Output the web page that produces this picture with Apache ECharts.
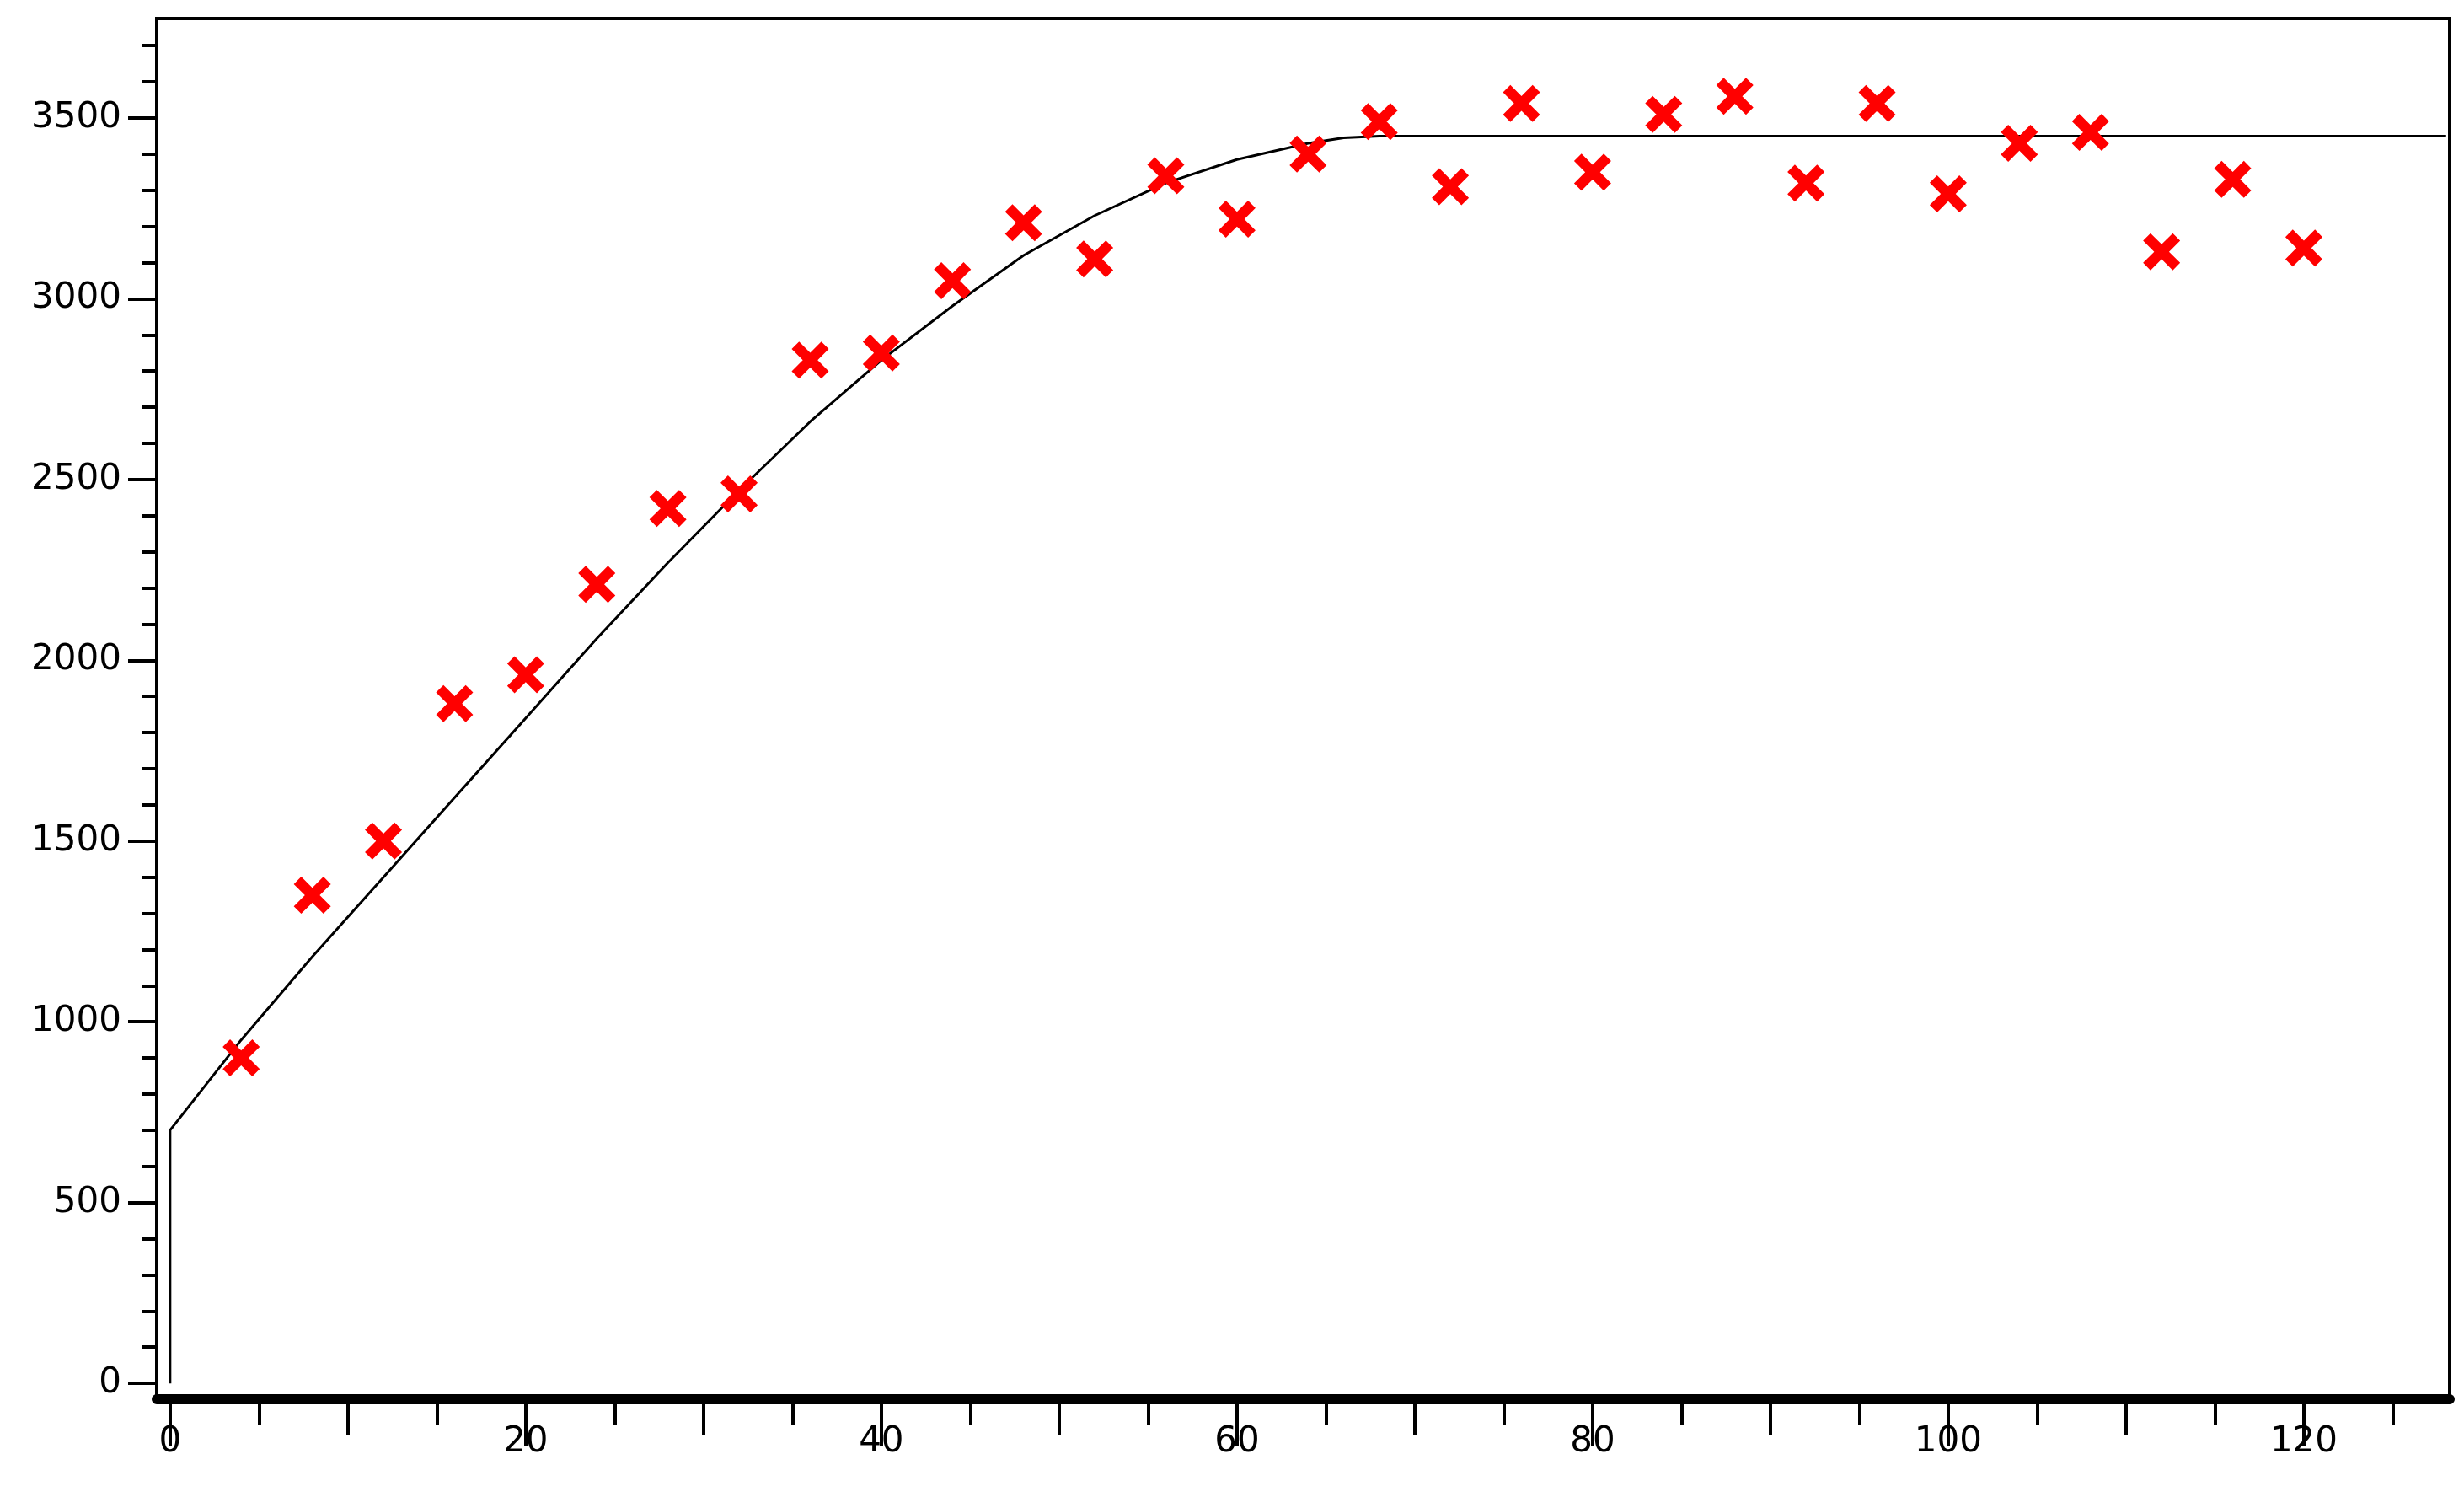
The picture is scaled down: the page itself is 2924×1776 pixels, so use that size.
<!DOCTYPE html>
<html>
<head>
<meta charset="utf-8">
<script src="https://cdn.jsdelivr.net/npm/echarts@6/dist/echarts.min.js"></script>
<style>html,body{margin:0;padding:0;background:#fff}#main{width:2924px;height:1776px}</style>
</head>
<body>
<div id="main"></div>
<script>
const scatterX = [4, 8, 12, 16, 20, 24, 28, 32, 36, 40, 44, 48, 52, 56, 60, 64, 68, 72, 76, 80, 84, 88, 92, 96, 100, 104, 108, 112, 116, 120];
const scatterY = [900, 1350, 1500, 1880, 1960, 2210, 2420, 2460, 2830, 2850, 3050, 3210, 3110, 3340, 3220, 3400, 3490, 3310, 3540, 3350, 3510, 3560, 3320, 3540, 3290, 3430, 3460, 3130, 3330, 3140];
const curveX = [0, 0, 4, 8, 12, 16, 20, 24, 28, 32, 36, 40, 44, 48, 52, 56, 60, 64, 66, 68, 128];
const curveY = [0, 700, 950, 1180, 1400, 1620, 1840, 2060, 2270, 2470, 2660, 2830, 2980, 3120, 3230, 3320, 3385, 3430, 3445, 3450, 3450];
const xLabels = [0, 20, 40, 60, 80, 100, 120];
const xTicks10 = [10, 30, 50, 70, 90, 110];
const xTicks5 = [5, 15, 25, 35, 45, 55, 65, 75, 85, 95, 105, 115, 125];
const yLabels = [0, 500, 1000, 1500, 2000, 2500, 3000, 3500];
const yMinor = [];
for (let v = 100; v <= 3700; v += 100) if (v % 500) yMinor.push(v);

const chart = echarts.init(document.getElementById('main'));
const xBase = { type: 'value', min: -0.75, max: 128.2, position: 'bottom', splitLine: { show: false } };
const yBase = { type: 'value', min: -44, max: 3775, position: 'left', splitLine: { show: false } };
const labelFont = { color: '#000', fontSize: 42, fontFamily: 'DejaVu Sans', formatter: v => String(v) };
const xAxes = [
  Object.assign({}, xBase, {
    axisLine: { show: true, onZero: false, lineStyle: { color: '#000', width: 12 } },
    axisTick: { show: true, customValues: xLabels, length: 55, lineStyle: { color: '#000', width: 4 } },
    axisLabel: Object.assign({ show: true, customValues: xLabels, margin: 30 }, labelFont)
  }),
  Object.assign({}, xBase, {
    axisLine: { show: false, onZero: false },
    axisTick: { show: true, customValues: xTicks10, length: 42, lineStyle: { color: '#000', width: 4 } },
    axisLabel: { show: false }
  }),
  Object.assign({}, xBase, {
    axisLine: { show: false, onZero: false },
    axisTick: { show: true, customValues: xTicks5, length: 30, lineStyle: { color: '#000', width: 4 } },
    axisLabel: { show: false }
  })
];
const yAxes = [
  Object.assign({}, yBase, {
    axisLine: { show: true, onZero: false, lineStyle: { color: '#000', width: 4 } },
    axisTick: { show: true, customValues: yLabels, length: 34, lineStyle: { color: '#000', width: 4 } },
    axisLabel: Object.assign({ show: true, customValues: yLabels, margin: 42 }, labelFont)
  }),
  Object.assign({}, yBase, {
    axisLine: { show: false, onZero: false },
    axisTick: { show: true, customValues: yMinor, length: 18, lineStyle: { color: '#000', width: 4 } },
    axisLabel: { show: false }
  })
];

const option = {
  backgroundColor: '#fff',
  animation: false,
  grid: { left: 186, right: 17, top: 22, bottom: 116, show: true, borderColor: '#000', borderWidth: 4, backgroundColor: 'transparent' },
  xAxis: xAxes,
  yAxis: yAxes,
  series: [
    {
      type: 'line',
      data: curveX.map((x, i) => [x, curveY[i]]),
      smooth: false,
      showSymbol: false,
      lineStyle: { color: '#000', width: 3 },
      z: 2
    },
    {
      type: 'scatter',
      data: scatterX.map((x, i) => [x, scatterY[i]]),
      symbol: 'path://M2,0 L5,3 L8,0 L10,2 L7,5 L10,8 L8,10 L5,7 L2,10 L0,8 L3,5 L0,2 Z',
      symbolSize: 44,
      itemStyle: { color: '#ff0000', opacity: 1 },
      z: 3
    }
  ]
};
chart.setOption(option);
</script>
</body>
</html>
